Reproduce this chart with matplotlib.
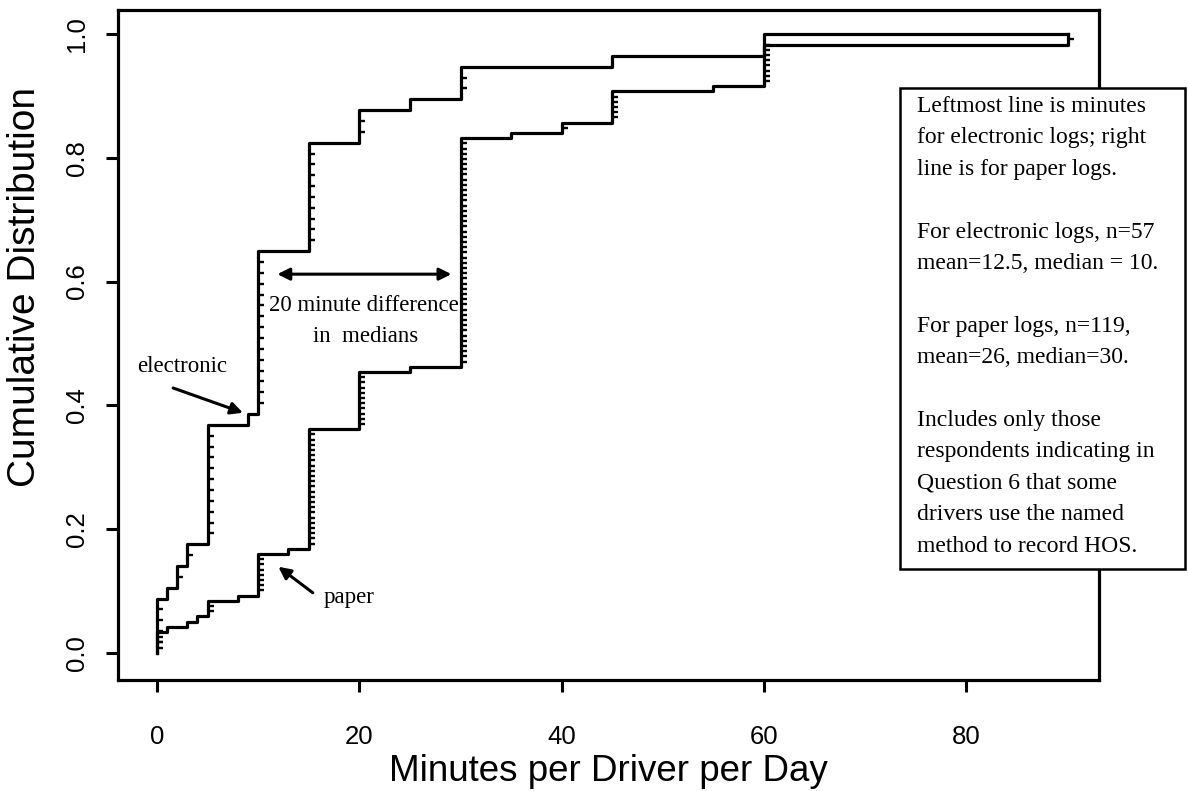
import numpy as np
import matplotlib
matplotlib.use("Agg")
import matplotlib.pyplot as plt
from matplotlib.patches import Rectangle

# ---------------------------------------------------------
# DATA: minutes per driver per day, respondents at each value
# ---------------------------------------------------------
elec_minutes = [0, 1, 2, 3, 5, 9, 10, 15, 20, 25, 30, 45, 60]
elec_counts  = [5, 1, 2, 2, 11, 1, 15, 10, 3, 1, 3, 1, 2]

paper_minutes = [0, 1, 3, 4, 5, 8, 10, 13, 15, 20, 25, 30, 35, 40, 45, 55, 60, 90]
paper_counts  = [4, 1, 1, 1, 3, 1, 8, 1, 23, 11, 1, 44, 1, 2, 6, 1, 8, 2]

x_ticks = [0, 20, 40, 60, 80]
y_ticks = [0.0, 0.2, 0.4, 0.6, 0.8, 1.0]

BOX_TEXT = ("Leftmost line is minutes\n"
            "for electronic logs; right\n"
            "line is for paper logs.\n"
            "\n"
            "For electronic logs, n=57\n"
            "mean=12.5, median = 10.\n"
            "\n"
            "For paper logs, n=119,\n"
            "mean=26, median=30.\n"
            "\n"
            "Includes only those\n"
            "respondents indicating in\n"
            "Question 6 that some\n"
            "drivers use the named\n"
            "method to record HOS.")

SERIF = "Liberation Serif"
plt.rcParams["font.family"] = ["Liberation Sans", "DejaVu Sans"]


def draw_cdf(ax, minutes, counts, x_end):
    minutes = np.asarray(minutes, dtype=float)
    cum = np.cumsum(counts)
    n = cum[-1]
    xs = np.concatenate([[minutes[0]], minutes, [x_end]])
    ys = np.concatenate([[0.0], cum / n, [1.0]])
    ax.step(xs, ys, where="post", color="black", lw=2.3, zorder=3)
    # little ticks on the risers, one per tied observation
    tx, ty = [], []
    prev = 0
    for m, c in zip(minutes, cum):
        for k in range(prev + 1, c):
            tx.append(m)
            ty.append(k / n)
        prev = c
    ax.plot(tx, ty, ls="none", marker=1, ms=4, mew=1.7, color="black", zorder=3)


fig = plt.figure(figsize=(11.88, 7.91), dpi=100)
ax = fig.add_axes([118 / 1188, 1 - 680 / 791, 981 / 1188, 670 / 791])

x_end = max(max(elec_minutes), max(paper_minutes))
draw_cdf(ax, elec_minutes, elec_counts, x_end)
draw_cdf(ax, paper_minutes, paper_counts, x_end)

ax.set_xlim(-3.85, 93.1)
ax.set_ylim(-0.044, 1.039)
ax.set_xticks(x_ticks)
ax.set_yticks(y_ticks)
ax.set_xticklabels([str(v) for v in x_ticks])
ax.set_yticklabels([f"{v:.1f}" for v in y_ticks], rotation=90, va="center")
ax.tick_params(axis="both", direction="out", length=8.6, width=2.2, labelsize=18.5)
ax.tick_params(axis="x", pad=24)
ax.tick_params(axis="y", pad=12)
for sp in ax.spines.values():
    sp.set_linewidth(2.3)

ax.set_xlabel("Minutes per Driver per Day", fontsize=26.5, va="center")
ax.xaxis.set_label_coords(0.5, -0.136)
ax.set_ylabel("Cumulative Distribution", fontsize=28, va="center")
ax.yaxis.set_label_coords(-0.095, 0.587)

# annotations
ax.text(2.47, 0.462, "electronic", family=SERIF, fontsize=16.5, ha="center", va="center")
ax.annotate("", xy=(8.5, 0.388), xytext=(1.6, 0.428),
            arrowprops=dict(arrowstyle="-|>", lw=2.2, color="black",
                            mutation_scale=18, shrinkA=0, shrinkB=0))
ax.text(19.0, 0.090, "paper", family=SERIF, fontsize=16.5, ha="center", va="center")
ax.annotate("", xy=(12.0, 0.139), xytext=(15.4, 0.097),
            arrowprops=dict(arrowstyle="-|>", lw=2.2, color="black",
                            mutation_scale=18, shrinkA=0, shrinkB=0))
ax.annotate("", xy=(11.9, 0.612), xytext=(29.1, 0.612),
            arrowprops=dict(arrowstyle="<|-|>", lw=2.2, color="black",
                            mutation_scale=18, shrinkA=0, shrinkB=0))
ax.text(20.45, 0.562, "20 minute difference", family=SERIF, fontsize=16.5,
        ha="center", va="center", zorder=2)
ax.text(20.6, 0.512, "in  medians", family=SERIF, fontsize=16.5,
        ha="center", va="center", zorder=2)

# note box, sits over the right edge of the plot frame
box = Rectangle((900 / 1188, 1 - 569 / 791), 285 / 1188, 481 / 791,
                transform=fig.transFigure, facecolor="white", edgecolor="black",
                lw=1.8, zorder=5)
fig.add_artist(box)
fig.text(917 / 1188, 1 - 96 / 791, BOX_TEXT, family=SERIF, fontsize=17,
         ha="left", va="top", linespacing=1.65, zorder=6)

fig.savefig("out.png", dpi=100)
